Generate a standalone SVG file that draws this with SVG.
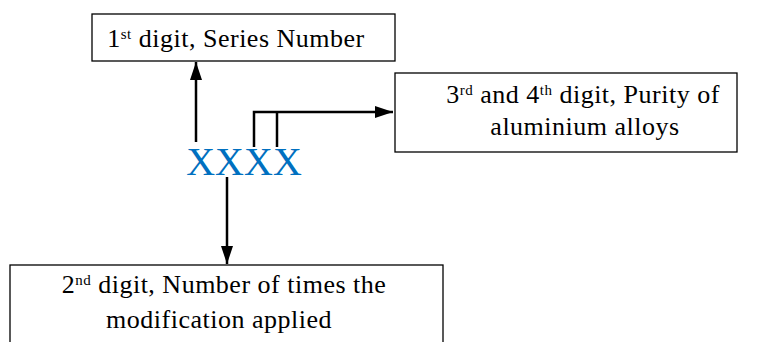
<svg xmlns="http://www.w3.org/2000/svg" width="757" height="342" viewBox="0 0 757 342">
<style>
.box{fill:#fff;stroke:#000;stroke-width:1.3}
.t{font-size:26px;letter-spacing:0.5px;fill:#000;text-anchor:middle}
.sup{font-size:15px}
.c{fill:none;stroke:#000;stroke-width:2.5}
</style>
<defs>
<marker id="ah" viewBox="0 0 18 12" refX="18" refY="6" markerWidth="18" markerHeight="12" markerUnits="userSpaceOnUse" orient="auto">
<path d="M0,0 L18,6 L0,12 Z" fill="#000"/>
</marker>
</defs>
<g font-family="Liberation Serif, Times New Roman, serif">
<g id="n1">
<rect class="box" x="92" y="14" width="303" height="47"/>
<text class="t" x="236" y="47">1<tspan class="sup" dy="-8">st</tspan><tspan dy="8"> digit, Series Number</tspan></text>
</g>
<g id="n2">
<rect class="box" x="395" y="73" width="342" height="79"/>
<text class="t" x="583" y="103">3<tspan class="sup" dy="-8">rd</tspan><tspan dy="8"> and 4</tspan><tspan class="sup" dy="-8">th</tspan><tspan dy="8"> digit, Purity of</tspan></text>
<text class="t" x="585" y="135">aluminium alloys</text>
</g>
<g id="n3">
<rect class="box" x="10" y="265" width="433" height="90"/>
<text class="t" x="224" y="293">2<tspan class="sup" dy="-8">nd</tspan><tspan dy="8"> digit, Number of times the</tspan></text>
<text class="t" x="219" y="328">modification applied</text>
</g>
<g id="code">
<text x="244" y="175" font-size="40" fill="#0070C0" text-anchor="middle">XXXX</text>
</g>
</g>
<g id="connectors">
<line class="c" x1="196" y1="142" x2="196" y2="62" marker-end="url(#ah)"/>
<polyline class="c" points="254,147 254,112 393,112" marker-end="url(#ah)"/>
<line class="c" x1="277" y1="147" x2="277" y2="112"/>
<line class="c" x1="227" y1="177" x2="227" y2="264" marker-end="url(#ah)"/>
</g>
</svg>
